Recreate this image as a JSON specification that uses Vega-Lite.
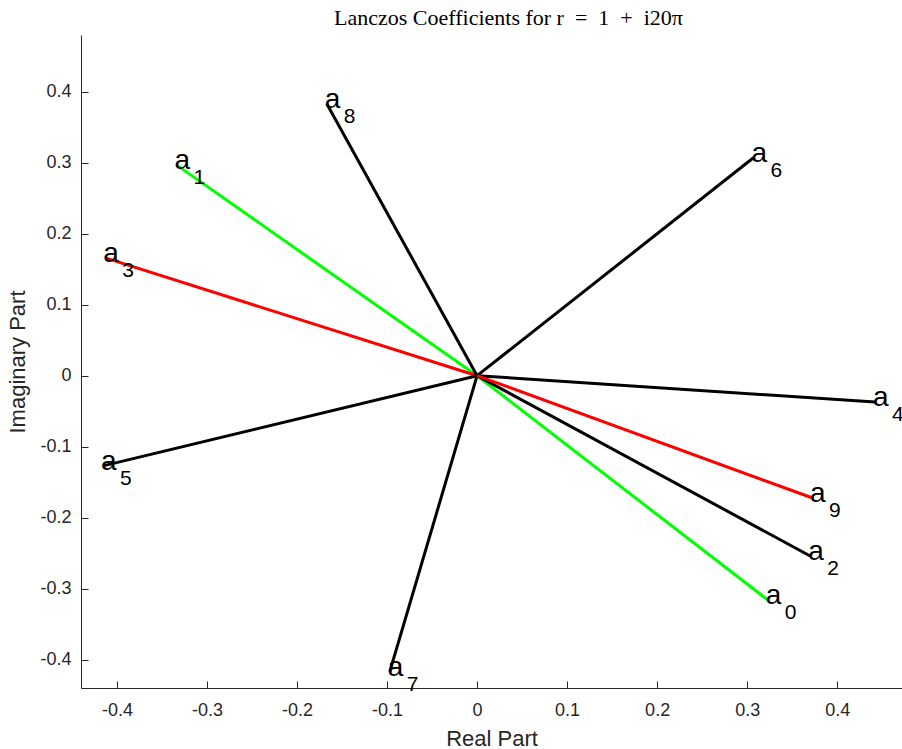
{
  "$schema": "https://vega.github.io/schema/vega-lite/v6.json",
  "width": 821,
  "height": 653,
  "autosize": {"type": "none"},
  "padding": {"left": 81, "top": 35, "right": 0, "bottom": 61},
  "background": "white",
  "title": {
    "text": "Lanczos Coefficients for r\u2002=\u20021\u2002+\u2002i20π",
    "font": "Liberation Serif",
    "fontSize": 22,
    "fontWeight": "normal",
    "color": "black",
    "anchor": "middle",
    "dx": 17,
    "offset": 5
  },
  "config": {
    "view": {"stroke": null},
    "axis": {
      "grid": false,
      "domainColor": "#262626",
      "tickColor": "#262626",
      "labelColor": "#262626",
      "titleColor": "#262626",
      "labelFont": "Liberation Sans",
      "titleFont": "Liberation Sans",
      "labelFontSize": 18,
      "titleFontSize": 22,
      "titleFontWeight": "normal",
      "tickSize": -7,
      "domainWidth": 1,
      "tickWidth": 1
    }
  },
  "data": {
    "values": [
      {"n": "0", "x": 0.323, "y": -0.316, "g": "green"},
      {"n": "1", "x": -0.334, "y": 0.297, "g": "green"},
      {"n": "2", "x": 0.370, "y": -0.254, "g": "black"},
      {"n": "3", "x": -0.413, "y": 0.166, "g": "red"},
      {"n": "4", "x": 0.442, "y": -0.037, "g": "black"},
      {"n": "5", "x": -0.4155, "y": -0.127, "g": "black"},
      {"n": "6", "x": 0.307, "y": 0.307, "g": "black"},
      {"n": "7", "x": -0.097, "y": -0.417, "g": "black"},
      {"n": "8", "x": -0.167, "y": 0.383, "g": "black"},
      {"n": "9", "x": 0.372, "y": -0.172, "g": "red"}
    ]
  },
  "encoding": {
    "x": {
      "field": "x", "type": "quantitative",
      "scale": {"domain": [-0.44, 0.472], "nice": false, "zero": false},
      "axis": {
        "title": "Real Part",
        "values": [-0.4, -0.3, -0.2, -0.1, 0, 0.1, 0.2, 0.3, 0.4],
        "labelExpr": "datum.value == 0 ? '0' : toString(round(datum.value*10)/10)",
        "labelPadding": 20,
        "titlePadding": 9
      }
    },
    "y": {
      "field": "y", "type": "quantitative",
      "scale": {"domain": [-0.44, 0.48], "nice": false, "zero": false},
      "axis": {
        "title": "Imaginary Part",
        "values": [-0.4, -0.3, -0.2, -0.1, 0, 0.1, 0.2, 0.3, 0.4],
        "labelExpr": "datum.value == 0 ? '0' : toString(round(datum.value*10)/10)",
        "labelPadding": 17,
        "titlePadding": 10
      }
    }
  },
  "layer": [
    {
      "mark": {"type": "rule", "strokeWidth": 3},
      "encoding": {
        "x2": {"datum": 0},
        "y2": {"datum": 0},
        "color": {
          "field": "g", "type": "nominal",
          "scale": {"domain": ["green", "black", "red"], "range": ["#00ff00", "#000000", "#ff0000"]},
          "legend": null
        }
      }
    },
    {
      "mark": {"type": "text", "text": "a", "align": "left", "baseline": "middle", "font": "Liberation Sans", "fontSize": 28, "color": "black", "dx": -2, "dy": -4},
      "encoding": {}
    },
    {
      "mark": {"type": "text", "align": "left", "baseline": "middle", "font": "Liberation Sans", "fontSize": 21, "color": "black", "dx": 17, "dy": 13},
      "encoding": {"text": {"field": "n"}}
    }
  ]
}
